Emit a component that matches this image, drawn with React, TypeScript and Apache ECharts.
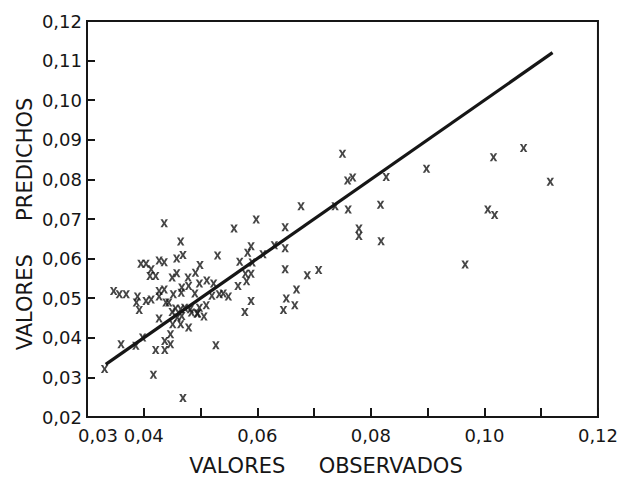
import React, { useEffect, useRef } from "react";
import * as echarts from "echarts";

const observados: number[] = [
  0.0750, 0.0759, 0.0768, 0.0827, 0.0898, 0.0677, 0.0737, 0.0760, 0.0817, 0.0779,
  0.0779, 0.0818, 0.0688, 0.0708, 0.1016, 0.1069, 0.1116, 0.1006, 0.1018, 0.0966,
  0.0598, 0.0559, 0.0649, 0.0530, 0.0589, 0.0583, 0.0610, 0.0630, 0.0649, 0.0569,
  0.0591, 0.0499, 0.0491, 0.0579, 0.0589, 0.0581, 0.0649, 0.0566, 0.0498, 0.0511,
  0.0523, 0.0669, 0.0589, 0.0578, 0.0651, 0.0666, 0.0646, 0.0527, 0.0510, 0.0498,
  0.0495, 0.0506, 0.0520, 0.0533, 0.0540, 0.0549,
  0.0436, 0.0465, 0.0469, 0.0458, 0.0427, 0.0436, 0.0395, 0.0404, 0.0413, 0.0411,
  0.0421, 0.0450, 0.0458, 0.0478, 0.0479, 0.0347, 0.0357, 0.0369, 0.0389, 0.0387,
  0.0392, 0.0404, 0.0413, 0.0427, 0.0436, 0.0427, 0.0439, 0.0444, 0.0452, 0.0466,
  0.0467, 0.0490, 0.0427, 0.0450, 0.0456, 0.0465, 0.0472, 0.0482, 0.0484, 0.0494,
  0.0459, 0.0467, 0.0451, 0.0465, 0.0479, 0.0447, 0.0437, 0.0447, 0.0437, 0.0421,
  0.0398, 0.0360, 0.0386, 0.0417, 0.0331, 0.0469,
];
const predichos: number[] = [
  0.0865, 0.0797, 0.0805, 0.0806, 0.0827, 0.0732, 0.0732, 0.0724, 0.0736, 0.0676,
  0.0657, 0.0644, 0.0558, 0.0571, 0.0856, 0.0879, 0.0794, 0.0724, 0.0710, 0.0585,
  0.0699, 0.0676, 0.0679, 0.0608, 0.0631, 0.0615, 0.0611, 0.0634, 0.0626, 0.0592,
  0.0590, 0.0584, 0.0564, 0.0562, 0.0562, 0.0543, 0.0573, 0.0531, 0.0537, 0.0545,
  0.0537, 0.0522, 0.0493, 0.0465, 0.0499, 0.0482, 0.0470, 0.0381, 0.0482, 0.0476,
  0.0462, 0.0454, 0.0506, 0.0510, 0.0512, 0.0504,
  0.0689, 0.0643, 0.0609, 0.0600, 0.0595, 0.0591, 0.0587, 0.0587, 0.0573, 0.0556,
  0.0556, 0.0552, 0.0563, 0.0552, 0.0531, 0.0518, 0.0510, 0.0510, 0.0504, 0.0489,
  0.0470, 0.0493, 0.0497, 0.0518, 0.0522, 0.0504, 0.0489, 0.0489, 0.0510, 0.0514,
  0.0527, 0.0512, 0.0449, 0.0465, 0.0474, 0.0472, 0.0476, 0.0472, 0.0464, 0.0461,
  0.0451, 0.0455, 0.0434, 0.0434, 0.0426, 0.0409, 0.0392, 0.0384, 0.0369, 0.0369,
  0.0401, 0.0384, 0.0380, 0.0307, 0.0321, 0.0248,
];

// Regression line end points (predicted = observed)
const lineX: number[] = [0.0333, 0.112];
const lineY: number[] = [0.0333, 0.112];

const xTickValues: number[] = [0.03, 0.04, 0.05, 0.06, 0.07, 0.08, 0.09, 0.10, 0.11, 0.12];
const xLabelValuesA: number[] = [0.03, 0.06, 0.08, 0.10, 0.12];
const xLabelValuesB: number[] = [0.04];
const xTitle = "VALORES     OBSERVADOS";
const yTitle = "VALORES     PREDICHOS";

const INK = "#161616";
const FONT = "DejaVu Sans";

const fmt = (v: number) => (Math.round(v * 100) / 100).toFixed(2).replace(".", ",");

const X_MARK = "path://M0,0 H3.1 L5,3.2 L6.9,0 H10 L6.6,5 L10,10 H6.9 L5,6.8 L3.1,10 H0 L3.4,5 Z";

export default function App() {
  const ref = useRef<HTMLDivElement>(null);
  useEffect(() => {
    if (!ref.current) return;
    const chart = echarts.init(ref.current, undefined, { renderer: "svg" });
    const points = observados.map((x, i) => [x, predichos[i]]);
    const line = lineX.map((x, i) => [x, lineY[i]]);
    const labelBase = {
      color: INK,
      fontFamily: FONT,
      fontSize: 18,
      margin: 9,
      hideOverlap: false,
      showMinLabel: true,
      showMaxLabel: true,
      formatter: (v: number) => (Math.round(v * 100) === 3 ? "{m|" + fmt(v) + "}" : fmt(v)),
      rich: {
        m: { padding: [0, 0, 0, 22], color: INK, fontFamily: FONT, fontSize: 18 },
      },
    };
    chart.setOption({
      animation: false,
      backgroundColor: "#ffffff",
      grid: {
        left: 87,
        right: 17,
        top: 21,
        bottom: 60,
        show: true,
        borderColor: INK,
        borderWidth: 2,
        backgroundColor: "transparent",
      },
      xAxis: [
        {
          type: "value",
          min: 0.03,
          max: 0.12,
          interval: 0.01,
          position: "bottom",
          splitLine: { show: false },
          axisLine: { show: true, lineStyle: { color: INK, width: 2 } },
          axisTick: {
            show: true,
            inside: true,
            length: 9,
            customValues: xTickValues,
            lineStyle: { color: INK, width: 2 },
          },
          axisLabel: { ...labelBase, customValues: xLabelValuesA },
        },
        {
          type: "value",
          min: 0.03,
          max: 0.12,
          interval: 0.01,
          position: "bottom",
          offset: 0,
          splitLine: { show: false },
          axisLine: { show: false },
          axisTick: { show: false },
          axisLabel: { ...labelBase, customValues: xLabelValuesB },
        },
      ],
      yAxis: {
        type: "value",
        min: 0.02,
        max: 0.12,
        interval: 0.01,
        splitLine: { show: false },
        axisLine: { show: true, lineStyle: { color: INK, width: 2 } },
        axisTick: { show: true, inside: true, length: 8, lineStyle: { color: INK, width: 2 } },
        axisLabel: {
          color: INK,
          fontFamily: FONT,
          fontSize: 18,
          margin: 5,
          showMinLabel: true,
          showMaxLabel: true,
          formatter: (v: number) => fmt(v),
        },
      },
      graphic: [
        {
          type: "text",
          x: 326,
          y: 466,
          style: {
            text: xTitle,
            fill: INK,
            font: `21px "${FONT}"`,
            align: "center",
            verticalAlign: "middle",
          },
        },
        {
          type: "text",
          x: 25,
          y: 224,
          rotation: Math.PI / 2,
          style: {
            text: yTitle,
            fill: INK,
            font: `21px "${FONT}"`,
            align: "center",
            verticalAlign: "middle",
          },
        },
      ],
      series: [
        {
          type: "line",
          data: line,
          xAxisIndex: 0,
          symbol: "none",
          lineStyle: { color: INK, width: 3.2 },
          z: 3,
        },
        {
          type: "scatter",
          data: points,
          xAxisIndex: 0,
          symbol: X_MARK,
          symbolSize: [7.5, 8],
          itemStyle: { color: INK },
          z: 4,
        },
      ],
    });
    return () => chart.dispose();
  }, []);
  return (
    <div
      ref={ref}
      style={{ position: "fixed", left: 0, top: 0, width: 621, height: 477, background: "#fff" }}
    />
  );
}
